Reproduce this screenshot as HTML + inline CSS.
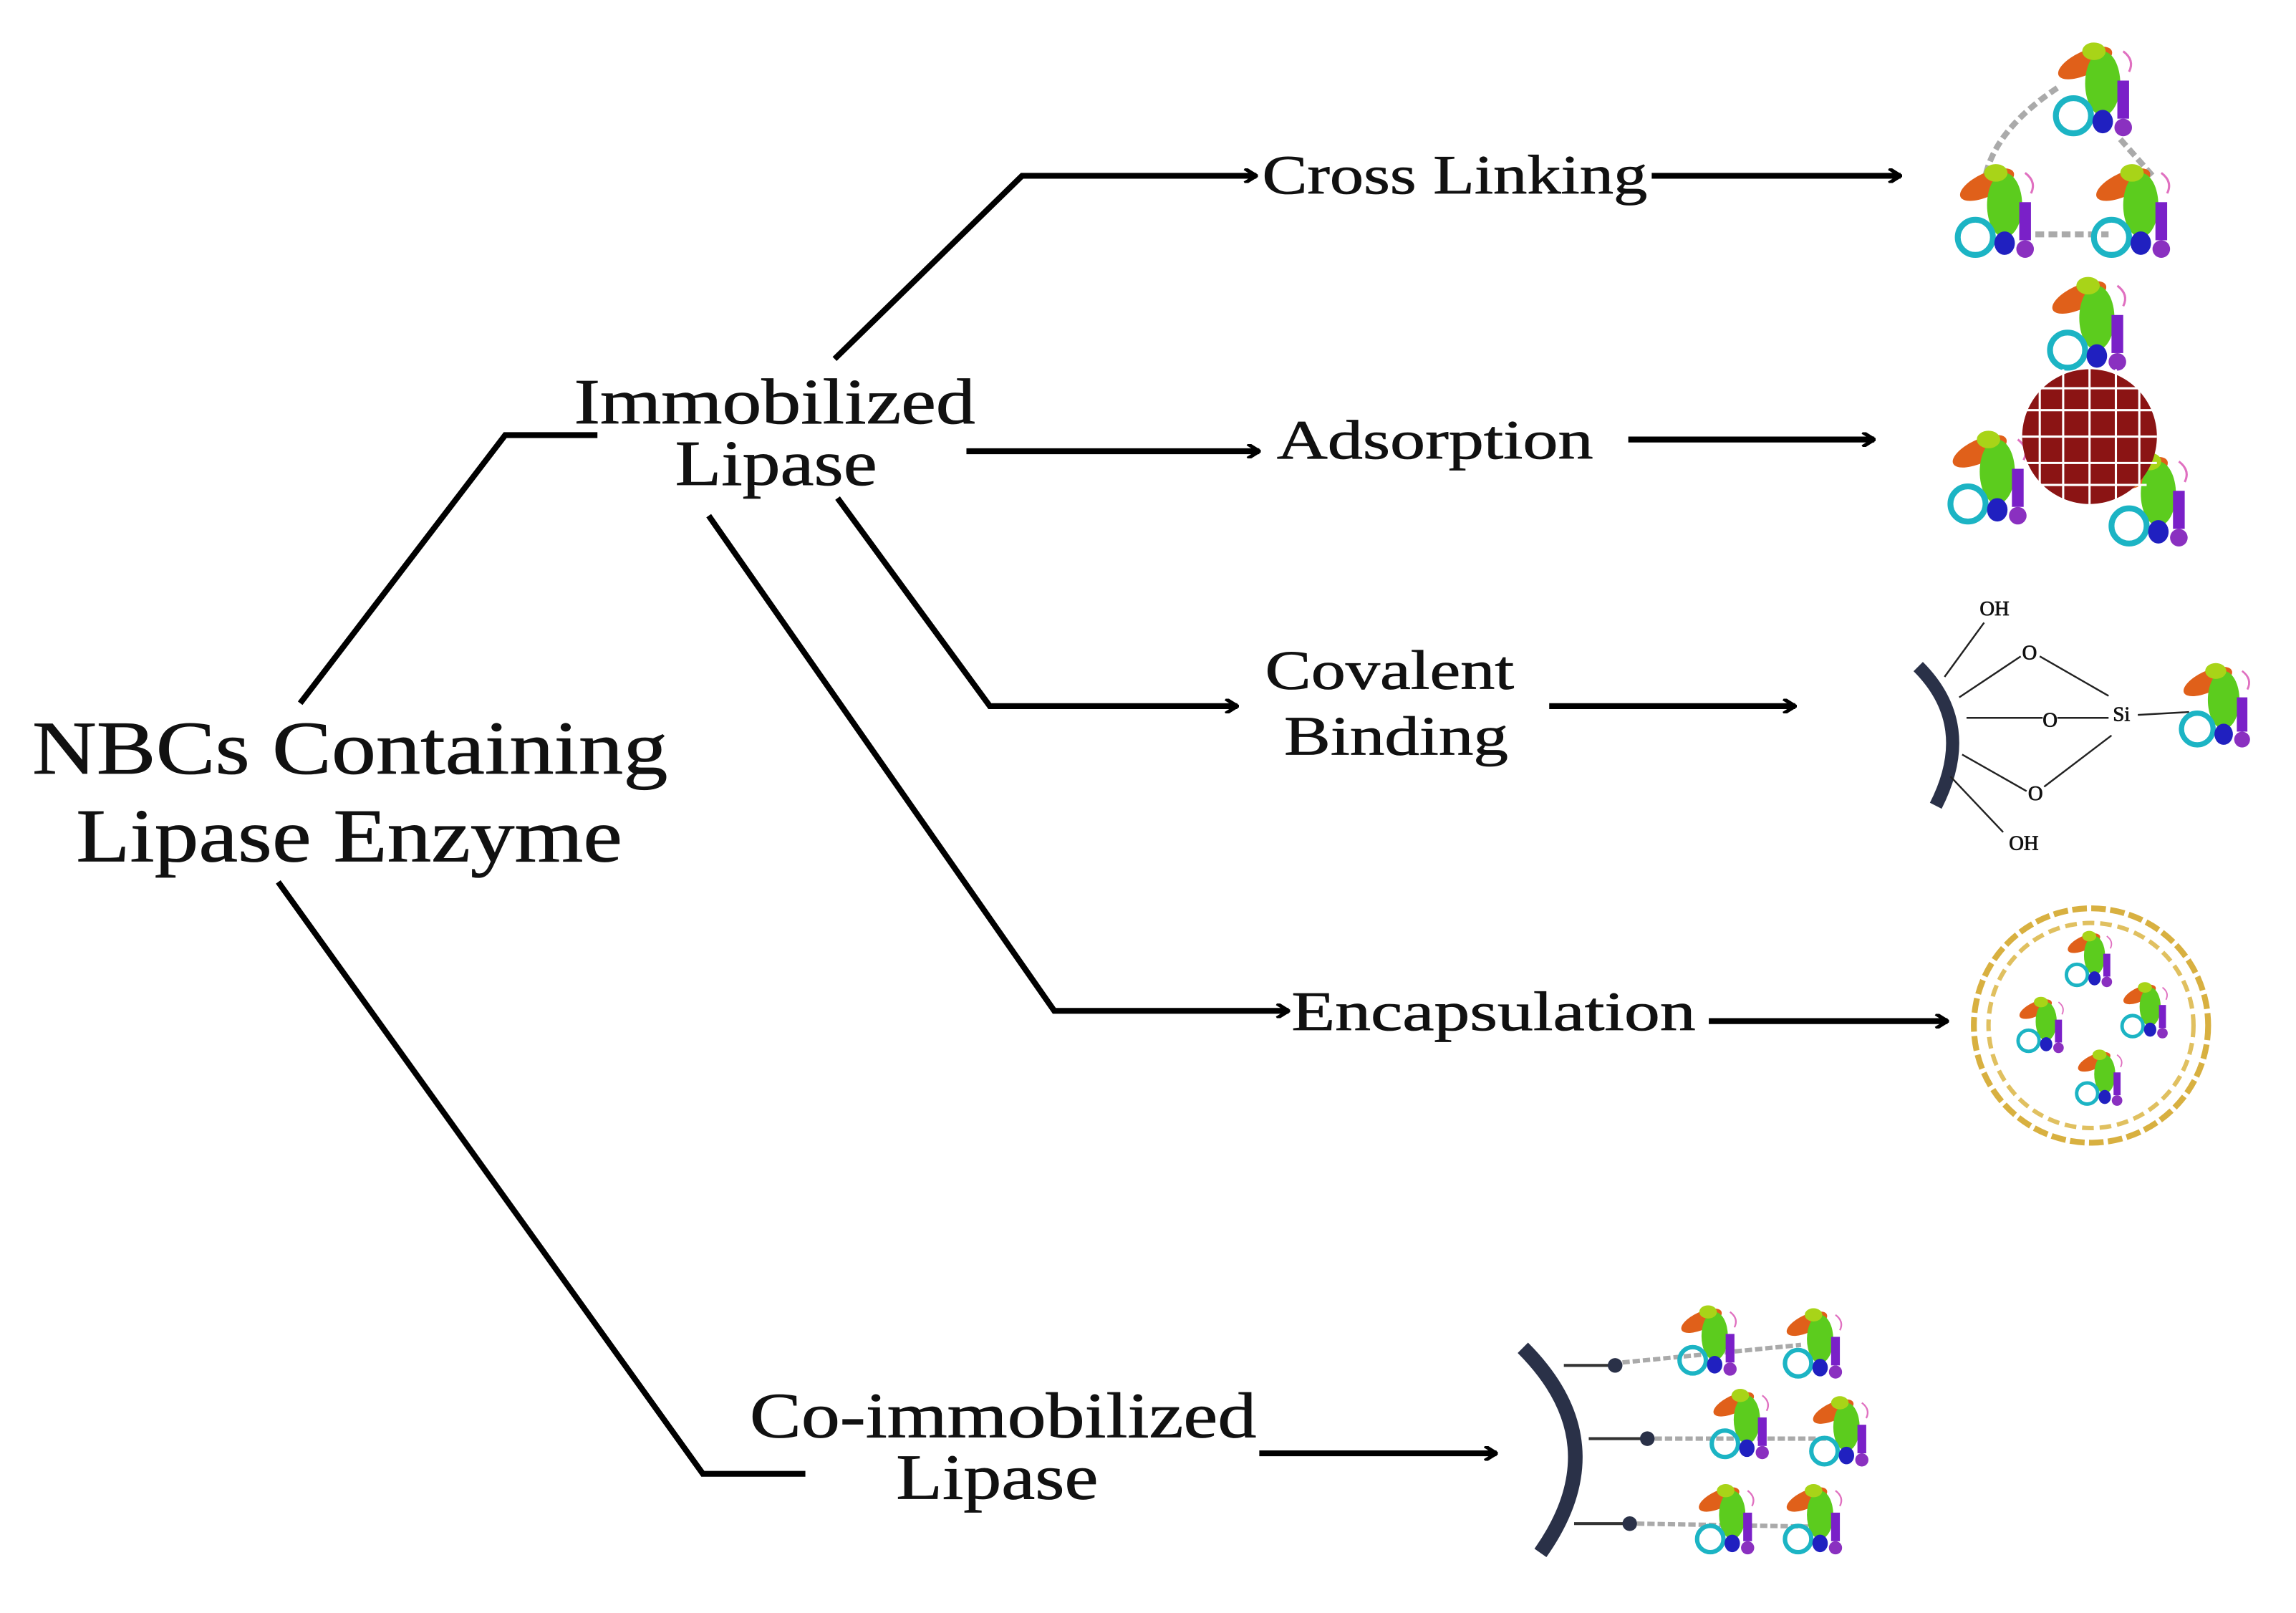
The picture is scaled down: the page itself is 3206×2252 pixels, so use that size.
<!DOCTYPE html>
<html><head><meta charset="utf-8"><style>
html,body{margin:0;padding:0;background:#fff}
svg{display:block}
text{font-family:"Liberation Serif",serif;fill:#111;stroke:#111;stroke-width:0.4}
</style></head><body>
<svg width="3206" height="2252" viewBox="0 0 1568 1101" preserveAspectRatio="none" xmlns="http://www.w3.org/2000/svg">
<defs>
<marker id="a" markerWidth="10" markerHeight="10" refX="9" refY="5" orient="auto" markerUnits="userSpaceOnUse">
<path d="M1,0 L9,5 L1,10" fill="none" stroke="#000" stroke-width="2.5"/>
</marker>
<g id="p">
<ellipse cx="-8" cy="-22" rx="20" ry="8" fill="#e0601a" transform="rotate(-25 -8 -22)"/>
<ellipse cx="4" cy="-8" rx="12" ry="22" fill="#5ccc1e"/>
<ellipse cx="-2" cy="-30" rx="8" ry="6" fill="#a8d418"/>
<rect x="14" y="-10" width="8" height="26" fill="#7a20c8"/>
<ellipse cx="-16" cy="14" rx="12" ry="12" fill="none" stroke="#1cb4c4" stroke-width="4"/>
<ellipse cx="4" cy="18" rx="7" ry="8" fill="#2020c0"/>
<ellipse cx="18" cy="22" rx="6" ry="6" fill="#8a30c0"/>
<path d="M18,-30 q8,6 4,14" fill="none" stroke="#e070c0" stroke-width="1.5"/>
</g>
</defs>
<g stroke="#000" stroke-width="4" fill="none">
<polyline points="570,245 698,120 858,120" marker-end="url(#a)"/>
<line x1="1128" y1="120" x2="1298" y2="120" marker-end="url(#a)"/>
<polyline points="205,480 345,297 408,297"/>
<line x1="660" y1="308" x2="860" y2="308" marker-end="url(#a)"/>
<line x1="1112" y1="300" x2="1280" y2="300" marker-end="url(#a)"/>
<polyline points="572,340 676,482 845,482" marker-end="url(#a)"/>
<line x1="1058" y1="482" x2="1226" y2="482" marker-end="url(#a)"/>
<polyline points="484,352 720,690 880,690" marker-end="url(#a)"/>
<line x1="1167" y1="697" x2="1330" y2="697" marker-end="url(#a)"/>
<polyline points="190,602 480,1006 550,1006"/>
<line x1="860" y1="992" x2="1022" y2="992" marker-end="url(#a)"/>
</g>
<g font-size="38" lengthAdjust="spacingAndGlyphs">
<text x="862" y="132" textLength="263" lengthAdjust="spacingAndGlyphs">Cross Linking</text>
<text x="872" y="313" textLength="216" lengthAdjust="spacingAndGlyphs">Adsorption</text>
<text x="864" y="470" textLength="170" lengthAdjust="spacingAndGlyphs">Covalent</text>
<text x="877" y="515" textLength="153" lengthAdjust="spacingAndGlyphs">Binding</text>
<text x="882" y="703" textLength="276" lengthAdjust="spacingAndGlyphs">Encapsulation</text>
</g>
<g font-size="44">
<text x="392" y="289" textLength="274" lengthAdjust="spacingAndGlyphs">Immobilized</text>
<text x="461" y="331" textLength="138" lengthAdjust="spacingAndGlyphs">Lipase</text>
<text x="512" y="981" textLength="346" lengthAdjust="spacingAndGlyphs">Co-immobilized</text>
<text x="612" y="1023" textLength="138" lengthAdjust="spacingAndGlyphs">Lipase</text>
</g>
<g font-size="52">
<text x="22" y="528" textLength="434" lengthAdjust="spacingAndGlyphs">NBCs Containing</text>
<text x="52" y="588" textLength="373" lengthAdjust="spacingAndGlyphs">Lipase Enzyme</text>
</g>
<g stroke="#aaa" stroke-width="4" stroke-dasharray="6 3" fill="none">
<path d="M1405,60 Q1360,90 1355,125"/><path d="M1448,95 L1470,120"/><path d="M1390,160 L1440,160"/>
</g>
<use href="#p" transform="translate(1432,65)"/>
<use href="#p" transform="translate(1365,148)"/>
<use href="#p" transform="translate(1458,148)"/>
<use href="#p" transform="translate(1428,225)"/>
<use href="#p" transform="translate(1360,330)"/>
<use href="#p" transform="translate(1470,345)"/>
<circle cx="1427" cy="298" r="46" fill="#8b1414"/>
<g stroke="#fff" stroke-width="1.5" fill="none">
<line x1="1381" y1="280" x2="1473" y2="280"/><line x1="1381" y1="298" x2="1473" y2="298"/><line x1="1381" y1="316" x2="1473" y2="316"/>
<line x1="1388" y1="265" x2="1466" y2="265"/><line x1="1388" y1="331" x2="1466" y2="331"/>
<line x1="1409" y1="252" x2="1409" y2="344"/><line x1="1427" y1="252" x2="1427" y2="344"/><line x1="1445" y1="252" x2="1445" y2="344"/>
<line x1="1393" y1="262" x2="1393" y2="334"/><line x1="1461" y1="262" x2="1461" y2="334"/>
</g>
<path d="M1310,455 Q1350,495 1322,550" stroke="#2a3148" stroke-width="9" fill="none"/>
<g stroke="#222" stroke-width="1.2" fill="none">
<line x1="1328" y1="462" x2="1355" y2="425"/><line x1="1338" y1="476" x2="1380" y2="448"/>
<line x1="1343" y1="490" x2="1395" y2="490"/><line x1="1405" y1="490" x2="1440" y2="490"/>
<line x1="1340" y1="515" x2="1384" y2="540"/><line x1="1332" y1="530" x2="1368" y2="568"/>
<line x1="1393" y1="448" x2="1440" y2="475"/><line x1="1396" y1="537" x2="1442" y2="502"/>
<line x1="1460" y1="488" x2="1495" y2="486"/>
</g>
<g font-size="14" style="stroke-width:0">
<text x="1352" y="420">OH</text><text x="1381" y="450">O</text><text x="1395" y="496">O</text>
<text x="1443" y="492">Si</text><text x="1385" y="546">O</text><text x="1372" y="580">OH</text>
</g>
<use href="#p" transform="translate(1515,485) scale(0.9)"/>
<circle cx="1428" cy="700" r="80" fill="none" stroke="#d8b040" stroke-width="4" stroke-dasharray="10 3"/>
<circle cx="1428" cy="700" r="70" fill="none" stroke="#e0c060" stroke-width="3" stroke-dasharray="8 4"/>
<use href="#p" transform="translate(1428,657) scale(0.6)"/>
<use href="#p" transform="translate(1395,702) scale(0.6)"/>
<use href="#p" transform="translate(1466,692) scale(0.6)"/>
<use href="#p" transform="translate(1435,738) scale(0.6)"/>
<path d="M1040,920 Q1105,985 1052,1060" stroke="#2a3148" stroke-width="10" fill="none"/>
<g stroke="#333" stroke-width="2"><line x1="1068" y1="932" x2="1103" y2="932"/><line x1="1085" y1="982" x2="1125" y2="982"/><line x1="1075" y1="1040" x2="1113" y2="1040"/></g>
<g fill="#2a3148"><circle cx="1103" cy="932" r="5"/><circle cx="1125" cy="982" r="5"/><circle cx="1113" cy="1040" r="5"/></g>
<g stroke="#aaa" stroke-width="3" stroke-dasharray="5 2" fill="none">
<line x1="1108" y1="930" x2="1230" y2="918"/><line x1="1130" y1="982" x2="1250" y2="982"/><line x1="1118" y1="1040" x2="1235" y2="1042"/>
</g>
<use href="#p" transform="translate(1168,918) scale(0.75)"/>
<use href="#p" transform="translate(1240,920) scale(0.75)"/>
<use href="#p" transform="translate(1190,975) scale(0.75)"/>
<use href="#p" transform="translate(1258,980) scale(0.75)"/>
<use href="#p" transform="translate(1180,1040) scale(0.75)"/>
<use href="#p" transform="translate(1240,1040) scale(0.75)"/>
</svg>
</body></html>
